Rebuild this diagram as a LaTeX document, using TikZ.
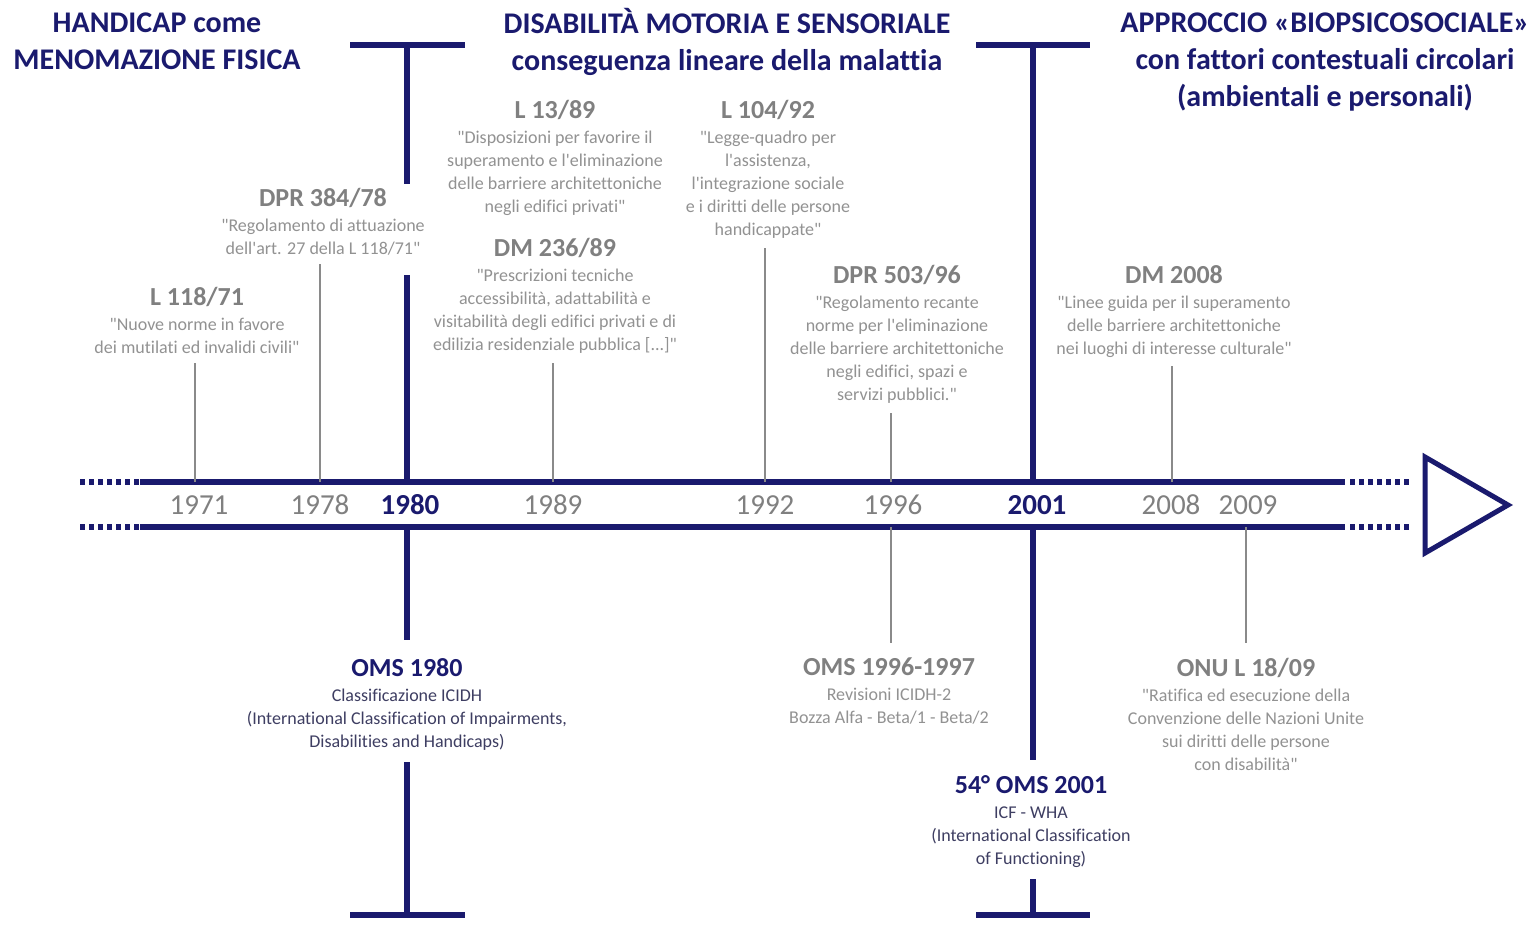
\documentclass[tikz,border=0pt]{standalone}
\usepackage{fontspec}
\setmainfont{Carlito}[Ligatures={TeXOff,NoCommon}]
\usepackage{xcolor}
\usepackage{tikz}
\usetikzlibrary{positioning,calc}
\definecolor{eranavy}{HTML}{1A1A6E}
\definecolor{eventgray}{HTML}{808080}
\definecolor{quotegray}{HTML}{929292}
\definecolor{omsdark}{HTML}{3E3E62}
\definecolor{tickgray}{HTML}{8A8A8A}
\newcommand{\evtitle}[2]{{\fontsize{26}{30}\selectfont\bfseries\color{#1}#2}}

\begin{document}
\begin{tikzpicture}[
  x=1pt, y=-1pt,
  erahead/.style={align=center, text=eranavy, inner sep=0pt, anchor=north, font=\fontsize{30}{37}\selectfont\bfseries},
  event/.style={align=center, text=quotegray, inner sep=0pt, anchor=north, font=\fontsize{18}{23}\selectfont},
  omsevent/.style={event, text=omsdark},
  yearlabel/.style={text=eventgray, inner sep=0pt, font=\fontsize{29}{29}\selectfont},
  keyyear/.style={yearlabel, text=eranavy, font=\fontsize{29}{29}\selectfont\bfseries},
  axisline/.style={eranavy, line width=5.5pt},
  axisdots/.style={eranavy, line width=5.5pt, dash pattern=on 5pt off 4pt},
  eraline/.style={eranavy, line width=6.5pt},
  tickline/.style={tickgray, line width=1.8pt, shorten >=9pt}
]
\useasboundingbox[fill=white] (0,0) rectangle (1529,929);

\node[erahead] (era1) at (157,13) {HANDICAP come\\MENOMAZIONE FISICA};
\node[erahead] (era2) at (727,8) {DISABILITÀ MOTORIA E SENSORIALE\\conseguenza lineare della malattia};
\node[erahead] (era3) at (1325,13) {APPROCCIO «BIOPSICOSOCIALE»\\con fattori contestuali circolari\\(ambientali e personali)};

\node[event] (e71) at (197,287) {\evtitle{eventgray}{L 118/71}\\[2pt] "Nuove norme in favore\\dei mutilati ed invalidi civili"};
\node[event] (e78) at (323,188) {\evtitle{eventgray}{DPR 384/78}\\[2pt] "Regolamento di attuazione\\dell'art. 27 della L 118/71"};
\node[event] (e89a) at (555,100) {\evtitle{eventgray}{L 13/89}\\[2pt] "Disposizioni per favorire il\\superamento e l'eliminazione\\delle barriere architettoniche\\negli edifici privati"};
\node[event] (e89b) at (555,238) {\evtitle{eventgray}{DM 236/89}\\[2pt] "Prescrizioni tecniche\\accessibilità, adattabilità e\\visitabilità degli edifici privati e di\\edilizia residenziale pubblica [...]"};
\node[event] (e92) at (768,100) {\evtitle{eventgray}{L 104/92}\\[2pt] "Legge-quadro per\\l'assistenza,\\l'integrazione sociale\\e i diritti delle persone\\handicappate"};
\node[event] (e96) at (897,265) {\evtitle{eventgray}{DPR 503/96}\\[2pt] "Regolamento recante\\norme per l'eliminazione\\delle barriere architettoniche\\negli edifici, spazi e\\servizi pubblici."};
\node[event] (e08) at (1174,265) {\evtitle{eventgray}{DM 2008}\\[2pt] "Linee guida per il superamento\\delle barriere architettoniche\\nei luoghi di interesse culturale"};

\node[omsevent] (oms80) at (407,658) {\evtitle{eranavy}{OMS 1980}\\[2pt] Classificazione ICIDH\\(International Classification of Impairments,\\Disabilities and Handicaps)};
\node[event] (oms96) at (889,658) {\evtitle{eventgray}{OMS 1996-1997}\\[2pt] Revisioni ICIDH-2\\Bozza Alfa - Beta/1 - Beta/2};
\node[omsevent] (oms01) at (1031,775) {\evtitle{eranavy}{54° OMS 2001}\\[2pt] ICF - WHA\\(International Classification\\of Functioning)};
\node[event] (onu09) at (1246,658) {\evtitle{eventgray}{ONU L 18/09}\\[2pt] "Ratifica ed esecuzione della\\Convenzione delle Nazioni Unite\\sui diritti delle persone\\con disabilità"};

\draw[axisline] (140,482) -- (1345,482);
\draw[axisline] (140,527) -- (1345,527);
\draw[axisdots] (80,482) -- (139,482);
\draw[axisdots] (80,527) -- (139,527);
\draw[axisdots] (1350,482) -- (1412,482);
\draw[axisdots] (1350,527) -- (1412,527);
\draw[eranavy, line width=5pt, miter limit=10] (1425,457) -- (1508,505) -- (1425,553) -- cycle;

\foreach \y/\x in {1971/199, 1978/320, 1989/553, 1992/765, 1996/893, 2008/1171, 2009/1248}
  \node[yearlabel] (y\y) at (\x,505) {\y};
\node[keyyear] (y1980) at (410,505) {1980};
\node[keyyear] (y2001) at (1037,505) {2001};

\foreach \n/\x in {71/195, 78/320, 89/553, 92/765, 96/891, 08/1172}
  \coordinate (a\n) at (\x,482);
\coordinate (b96) at (891,527);
\coordinate (b09) at (1246,527);
\draw[tickline] (a71) -- (a71 |- e71.south);
\draw[tickline] (a78) -- (a78 |- e78.south);
\draw[tickline] (a89) -- (a89 |- e89b.south);
\draw[tickline] (a92) -- (a92 |- e92.south);
\draw[tickline] (a96) -- (a96 |- e96.south);
\draw[tickline] (a08) -- (a08 |- e08.south);
\draw[tickline, shorten >=15pt] (b96) -- (b96 |- oms96.north);
\draw[tickline, shorten >=15pt] (b09) -- (b09 |- onu09.north);

\coordinate (t80) at (407,45);
\coordinate (a80) at (407,482);
\coordinate (b80) at (407,527);
\coordinate (f80) at (407,915);
\coordinate (t01) at (1033,45);
\coordinate (a01) at (1033,482);
\coordinate (b01) at (1033,527);
\coordinate (f01) at (1033,915);
\draw[eraline] ($(t80)+(-57,0)$) -- ($(t80)+(58,0)$);
\draw[eraline] ($(f80)+(-57,0)$) -- ($(f80)+(58,0)$);
\draw[eraline] ($(t01)+(-57,0)$) -- ($(t01)+(57,0)$);
\draw[eraline] ($(f01)+(-57,0)$) -- ($(f01)+(57,0)$);
\draw[eraline, shorten >=4pt] (t80) -- (t80 |- e78.north);
\draw[eraline, shorten >=20pt] (a80) -- (a80 |- e78.south);
\draw[eraline, shorten >=18pt] (b80) -- (b80 |- oms80.north);
\draw[eraline, shorten >=12pt] (f80) -- (f80 |- oms80.south);
\draw[eraline] (t01) -- (a01);
\draw[eraline, shorten >=15pt] (b01) -- (b01 |- oms01.north);
\draw[eraline, shorten >=12pt] (f01) -- (f01 |- oms01.south);
\end{tikzpicture}
\end{document}
